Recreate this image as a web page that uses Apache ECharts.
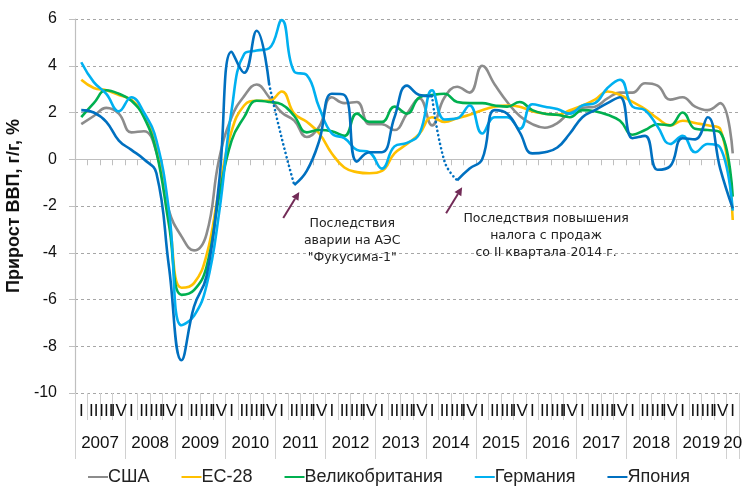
<!DOCTYPE html>
<html><head><meta charset="utf-8">
<script src="https://cdn.jsdelivr.net/npm/echarts@6/dist/echarts.min.js"></script>
<style>html,body{margin:0;padding:0;background:#fff}#c{width:746px;height:486px}</style>
</head><body><div id="c"></div>
<script>
// ---- data ----
const yearLabels = ['2007','2008','2009','2010','2011','2012','2013','2014','2015','2016','2017','2018','2019','20'];
const quarterNames = ['I','II','III','IV'];
const quarterCount = 53; // 2007Q1 .. 2020Q1
const yTicks = { min: -10, max: 6, step: 2 };

const usa = [1.5,1.85,2.2,1.95, 1.15,1.2,0.3,-2.2, -3.3,-3.9,-3.2,0.0, 1.8,2.7,3.2,2.65, 2.0,1.65,0.95,1.4, 2.65,2.4,2.45,1.5, 1.5,1.25,1.95,2.6, 1.45,2.65,3.1,2.85, 4.0,3.2,2.45,1.85, 1.5,1.35,1.55,2.0, 2.2,2.25,2.6,2.85, 2.85,3.25,3.15,2.55, 2.65,2.25,2.1,2.4, 0.25];
const eu28 = [3.4,3.05,2.95,2.75, 2.55,1.9,0.6,-2.5, -5.5,-5.3,-4.1,-1.3, 1.2,2.3,2.5,2.5, 2.9,1.95,1.6,1.1, 0.25,-0.35,-0.55,-0.6, -0.5,0.25,0.65,1.1, 1.8,1.6,1.75,1.9, 2.1,2.25,2.3,2.25, 2.05,1.95,1.9,2.1, 2.3,2.55,2.9,2.75, 2.45,2.15,1.75,1.45, 1.65,1.55,1.45,1.3, -2.6];
const uk = [1.8,2.4,2.95,2.8, 2.5,1.8,0.3,-2.8, -5.8,-5.6,-4.6,-1.6, 0.8,1.8,2.5,2.45, 2.35,1.85,1.15,1.25, 1.2,1.0,1.95,1.6, 1.6,2.25,1.95,2.65, 2.75,2.8,2.45,2.4, 2.4,2.3,2.25,2.45, 2.1,1.95,1.9,1.8, 2.1,2.05,1.9,1.65, 1.05,1.25,1.5,1.45, 2.0,1.3,1.25,1.15, -1.6];
const germany = [4.15,3.3,2.8,2.05, 2.65,2.0,0.8,-2.2, -7.1,-6.7,-5.4,-2.3, 2.1,4.5,4.65,4.75, 5.95,3.75,3.6,2.2, 1.1,0.9,0.4,0.3, -0.4,0.55,0.7,1.1, 2.95,1.7,1.75,2.3, 1.1,1.8,1.8,1.3, 2.35,2.25,2.15,1.95, 2.3,2.4,3.05,3.4, 2.25,2.1,1.4,0.65, 1.0,0.3,0.65,0.5, -2.2];
const japan = [2.1,2.0,1.6,0.8, 0.4,0.0,-0.6,-4.6, -8.6,-6.3,-5.0,-1.0, 4.6,3.7,5.5,3.2, 0.9,-1.1,-0.5,0.8, 2.8,2.75,-0.1,0.3, 0.3,1.8,3.15,2.75, 2.7,-0.1,-0.9,-0.4, 0.0,2.1,1.95,1.15, 0.25,0.3,0.5,1.1, 1.8,2.1,2.4,2.65, 0.9,1.0,-0.45,-0.3, 0.9,0.85,1.8,-0.4, -2.1];
const japanDottedSegments = [[15,17],[28,30]]; // drawn dotted
const seriesNames = ['США','ЕС-28','Великобритания','Германия','Япония'];
const seriesColors = ['#8c8c8c','#ffc000','#00b050','#00b0f0','#0070c0'];
const annotations = [
  { text: 'Последствия\nаварии на АЭС\n"Фукусима-1"', pointIndex: 17 },
  { text: 'Последствия повышения\nналога с продаж\nсо II квартала 2014 г.', pointIndex: 30 }
];

// ---- build ----
const quarters = [];
for (let i = 0; i < quarterCount; i++) quarters.push(quarterNames[i % 4]);
const yearCenters = [];
const yearBounds = [];
for (let k = 0; k < yearLabels.length; k++) {
  const start = k * 4;
  const len = Math.min(4, quarterCount - start);
  yearCenters.push(start + len / 2);
  yearBounds.push(start);
}
yearBounds.push(quarterCount);

const isInside = (i) => japanDottedSegments.some(([a,b]) => i > a && i < b);
const inSeg = (i) => japanDottedSegments.some(([a,b]) => i >= a && i <= b);
const japanSolid = japan.map((v,i) => isInside(i) ? null : v);
const japanDotted = japan.map((v,i) => inSeg(i) ? v : null);

const FONT = 'Liberation Sans, Arial, sans-serif';
const chart = echarts.init(document.getElementById('c'), null, { renderer: 'canvas' });

const allData = [usa, eu28, uk, germany, japanSolid];
const series = allData.map((d, k) => ({
  name: seriesNames[k], type: 'line', data: d, xAxisIndex: 0, yAxisIndex: 0,
  smooth: 0.45, showSymbol: false, symbol: 'none', connectNulls: false,
  color: seriesColors[k], lineStyle: { width: 2.6, color: seriesColors[k] }, z: 2 + k
}));
series.push({
  name: 'Япония (пунктир)', type: 'line', data: japanDotted, xAxisIndex: 0, yAxisIndex: 0,
  smooth: 0.45, showSymbol: false, symbol: 'none', connectNulls: false,
  color: seriesColors[4], lineStyle: { width: 2.6, color: seriesColors[4], type: [0.1, 4.3], cap: 'round' }, z: 7
});

chart.setOption({
  animation: false,
  backgroundColor: '#fff',
  grid: { left: 75, right: 7, top: 19, bottom: 93, containLabel: false, outerBoundsMode: 'none' },
  legend: {
    data: seriesNames, top: 463, left: 83, itemGap: 32, itemWidth: 20, itemHeight: 2,
    icon: 'rect', textStyle: { fontFamily: FONT, fontSize: 18, color: '#222', padding: [0,0,0,-5] }
  },
  xAxis: [
    { type: 'category', data: quarters, boundaryGap: true,
      axisLine: { show: true, onZero: true, lineStyle: { color: '#bfbfbf', width: 1.2 } },
      axisTick: { show: true, interval: 0, length: 6, lineStyle: { color: '#bfbfbf' } },
      axisLabel: { show: false }, splitLine: { show: false } },
    { type: 'category', data: quarters, boundaryGap: true, position: 'bottom',
      axisLine: { show: false, onZero: false },
      axisTick: { show: true, interval: 0, length: 27, lineStyle: { color: '#d0d0d0' } },
      axisLabel: { show: true, interval: 0, margin: 10, fontFamily: FONT, fontSize: 17, color: '#111' },
      splitLine: { show: false } },
    { type: 'value', min: 0, max: quarterCount, position: 'bottom',
      axisLine: { show: false, onZero: false },
      axisTick: { show: true, length: 66, customValues: yearBounds, lineStyle: { color: '#d0d0d0' } },
      axisLabel: { show: true, margin: 42, customValues: yearCenters, fontFamily: FONT, fontSize: 17, color: '#111',
        formatter: (v) => { const k = yearCenters.findIndex(c => Math.abs(c - v) < 1e-6); return k >= 0 ? yearLabels[k] : ''; } },
      splitLine: { show: false } }
  ],
  yAxis: {
    type: 'value', min: yTicks.min, max: yTicks.max, interval: yTicks.step,
    axisLine: { show: true, lineStyle: { color: '#bfbfbf', width: 1.2 } },
    axisTick: { show: true, length: 6, lineStyle: { color: '#bfbfbf' } },
    axisLabel: { fontFamily: FONT, fontSize: 16, color: '#111', margin: 18 },
    splitLine: { show: true, lineStyle: { type: [3,3], color: '#a6a6a6', width: 1 } },
    name: 'Прирост ВВП, г/г, %', nameLocation: 'middle', nameGap: 44,
    nameTextStyle: { fontFamily: FONT, fontWeight: 'bold', fontSize: 18, color: '#111' }
  },
  series: series
});

// annotations anchored to Japan's data points
const ARROW = '#722b57';
const graphics = [];
annotations.forEach((a, n) => {
  const p = chart.convertToPixel({ xAxisIndex: 0, yAxisIndex: 0 }, [a.pointIndex, japan[a.pointIndex]]);
  const tip = [p[0] + 5, p[1] + 7];
  const tail = [tip[0] - 16, tip[1] + 26];
  const ang = Math.atan2(tip[1] - tail[1], tip[0] - tail[0]);
  const hl = 8, hw = 4;
  const bx = tip[0] - hl * Math.cos(ang), by = tip[1] - hl * Math.sin(ang);
  const nx = -Math.sin(ang) * hw, ny = Math.cos(ang) * hw;
  graphics.push({ type: 'line', shape: { x1: tail[0], y1: tail[1], x2: bx, y2: by }, style: { stroke: ARROW, lineWidth: 2 }, z: 10 });
  graphics.push({ type: 'polygon', shape: { points: [tip, [bx + nx, by + ny], [bx - nx, by - ny]] }, style: { fill: ARROW }, z: 10 });
  graphics.push({ type: 'text', x: tail[0] + (n === 0 ? 69 : 100), y: tail[1] - 3,
    style: { text: a.text, fill: '#222', font: '12.5px "DejaVu Sans", sans-serif', align: 'center', verticalAlign: 'top', lineHeight: 17 }, z: 10 });
});
chart.setOption({ graphic: graphics });
</script></body></html>
